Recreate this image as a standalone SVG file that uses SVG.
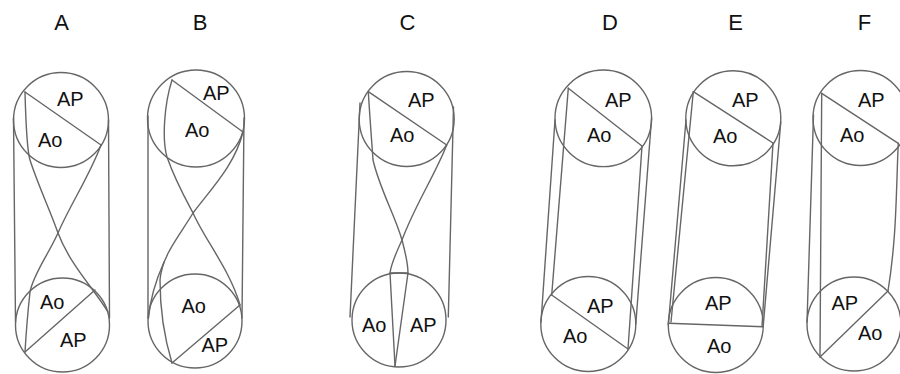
<svg xmlns="http://www.w3.org/2000/svg" width="900" height="374" viewBox="0 0 900 374">
<style>
.s{fill:none;stroke:#666;stroke-width:1.4;stroke-linecap:round;stroke-linejoin:round}
.t{font-family:"Liberation Sans",Arial,Helvetica,sans-serif;font-size:20px;fill:#111}
.h{font-family:"Liberation Sans",Arial,Helvetica,sans-serif;font-size:22px;fill:#111;text-anchor:middle}
</style>
<rect width="900" height="374" fill="#fff"/>
<g id="titles">
<text class="h" x="61.7" y="30">A</text>
<text class="h" x="200" y="30">B</text>
<text class="h" x="407.5" y="30">C</text>
<text class="h" x="610" y="30">D</text>
<text class="h" x="735.5" y="30">E</text>
<text class="h" x="864.5" y="30">F</text>
</g>
<g id="panelA">
<circle class="s" cx="61" cy="120" r="47.5"/>
<circle class="s" cx="62.5" cy="325" r="47"/>
<path class="s" d="M13.5,118 L15.5,322 M108.5,120 L109.5,318"/>
<path class="s" d="M25,92 L101,145 M25,352 L95,290"/>
<path class="s" d="M25,92 C26,130 27,150 30,160 C38,185 50,210 58,233 C70,265 95,290 108,312"/>
<path class="s" d="M101,145 C90,175 70,205 58,233 C48,255 33,275 30,292 C28,310 26,335 25,352"/>
<text class="t" x="57" y="106">AP</text>
<text class="t" x="38" y="147">Ao</text>
<text class="t" x="40" y="309">Ao</text>
<text class="t" x="60" y="347">AP</text>
</g>
<g id="panelB">
<circle class="s" cx="196" cy="118.5" r="48.5"/>
<circle class="s" cx="195" cy="321" r="47"/>
<path class="s" d="M148,116 L148,318 M244,118 L242,318"/>
<path class="s" d="M172,80 L243,132 M172,363 L240,305"/>
<path class="s" d="M172,80 C164,105 162,140 167,157 C175,180 185,198 193,213 C205,240 230,270 240,305"/>
<path class="s" d="M243,132 C235,165 210,190 193,213 C180,235 162,255 160,280 C160,310 165,340 172,363"/>
<path class="s" d="M164,262 C156,280 150,300 148.5,318"/>
<text class="t" x="203" y="100">AP</text>
<text class="t" x="185" y="137">Ao</text>
<text class="t" x="181.5" y="313">Ao</text>
<text class="t" x="201.5" y="352">AP</text>
</g>
<g id="panelC">
<circle class="s" cx="406.7" cy="119" r="47.5"/>
<circle class="s" cx="399" cy="320" r="47"/>
<path class="s" d="M360,103 L350,317 M453.5,107 L448.3,317"/>
<path class="s" d="M368.3,91.7 L446.7,145 M390,273 L408,273"/>
<path class="s" d="M368.3,91.7 C370,120 372,145 373,160 C380,190 395,215 402,240 C406,255 408,265 408,273 L395,366"/>
<path class="s" d="M446.7,145 C435,175 415,205 402,240 C395,255 391,265 390,273 L395,366"/>
<text class="t" x="408" y="107">AP</text>
<text class="t" x="390" y="142">Ao</text>
<text class="t" x="362" y="332">Ao</text>
<text class="t" x="410" y="332">AP</text>
</g>
<g id="panelD">
<circle class="s" cx="603.3" cy="118.3" r="48.3"/>
<circle class="s" cx="588.3" cy="324" r="47.5"/>
<path class="s" d="M555,120 L541,322 M651.6,118 L635.8,324"/>
<path class="s" d="M568.3,88.3 L551.7,295 M642,146 L628,349"/>
<path class="s" d="M568.3,88.3 L642,146 M551.7,295 L628,349"/>
<text class="t" x="605" y="107">AP</text>
<text class="t" x="587" y="142">Ao</text>
<text class="t" x="587" y="313">AP</text>
<text class="t" x="563" y="343">Ao</text>
</g>
<g id="panelE">
<circle class="s" cx="733.3" cy="118.3" r="47.5"/>
<circle class="s" cx="715.8" cy="325" r="47.5"/>
<path class="s" d="M686,120 L668.3,325 M780.8,122 L763.3,325"/>
<path class="s" d="M693.3,91.7 L671,322 M773,143 L762,326.5"/>
<path class="s" d="M693.3,91.7 L773,143 M668.3,323.3 L763.3,326.7"/>
<text class="t" x="732" y="107">AP</text>
<text class="t" x="713" y="143">Ao</text>
<text class="t" x="705" y="310">AP</text>
<text class="t" x="707" y="353">Ao</text>
</g>
<g id="panelF">
<circle class="s" cx="860.5" cy="118" r="47.5"/>
<circle class="s" cx="854" cy="324" r="47"/>
<path class="s" d="M813.5,115 L807,322 M821.7,93.3 L820,357"/>
<path class="s" d="M821.7,93.3 L898.3,143.3 M820,357 L888,291"/>
<path class="s" d="M898.3,143.3 C896,190 897,235 888,291"/>
<text class="t" x="858" y="107">AP</text>
<text class="t" x="840" y="142">Ao</text>
<text class="t" x="831.5" y="310">AP</text>
<text class="t" x="858" y="340">Ao</text>
</g>
</svg>
